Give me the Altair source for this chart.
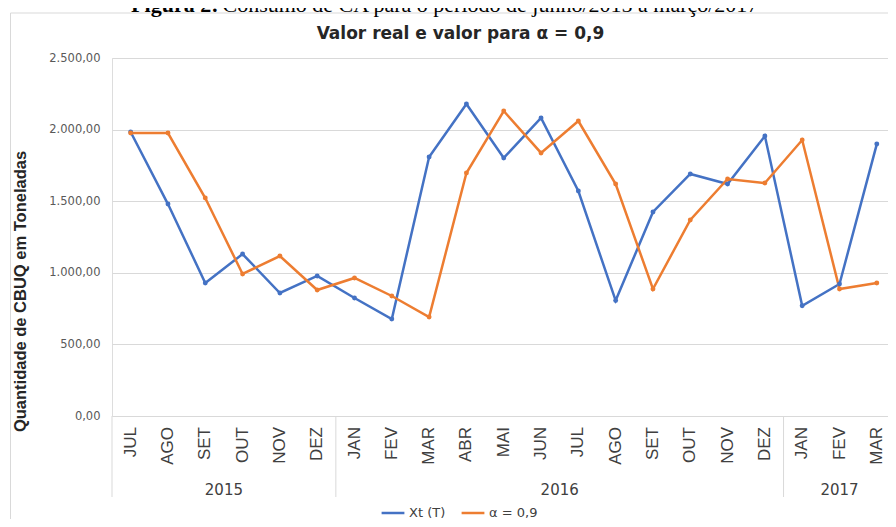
import altair as alt
import pandas as pd

# ---- data ----
months = ["JUL", "AGO", "SET", "OUT", "NOV", "DEZ",
          "JAN", "FEV", "MAR", "ABR", "MAI", "JUN", "JUL", "AGO", "SET", "OUT", "NOV", "DEZ",
          "JAN", "FEV", "MAR"]
years = ["2015", "2016", "2017"]
year_first = [0, 6, 18]
year_last = [5, 17, 20]
xt_values = [1983, 1480, 929, 1131, 859, 978, 824, 677, 1809, 2179, 1802, 2081,
             1571, 806, 1425, 1690, 1620, 1955, 770, 922, 1899]
alpha_values = [1976, 1976, 1522, 992, 1117, 880, 964, 838, 691, 1697, 2130, 1837,
                2060, 1620, 887, 1369, 1655, 1627, 1927, 887, 929]
series_names = ["Xt (T)", "α = 0,9"]
series_colors = ["#4472C4", "#ED7D31"]
y_ticks = [0, 500, 1000, 1500, 2000, 2500]

# ---- tables ----
rows = []
for i, m in enumerate(months):
    rows.append({"idx": i, "month": m, "series": series_names[0], "value": xt_values[i]})
    rows.append({"idx": i, "month": m, "series": series_names[1], "value": alpha_values[i]})
df = pd.DataFrame(rows)
mdf = pd.DataFrame({"idx": list(range(len(months))), "month": months})
ydf = pd.DataFrame({"year": years,
                    "center": [(a + b) / 2 for a, b in zip(year_first, year_last)]})
sep = pd.DataFrame({"pos": [year_first[0] - 0.5, year_first[1] - 0.5, year_first[2] - 0.5]})
one = pd.DataFrame({"a": [0]})

W, H = 776, 358
SANS = "Liberation Sans"
WIDE = "DejaVu Sans"

xscale = alt.Scale(domain=[-0.5, 20.3], nice=False, zero=False)
yscale = alt.Scale(domain=[0, 2500], nice=False)
color = alt.Color(
    "series:N",
    scale=alt.Scale(domain=series_names, range=series_colors),
    legend=alt.Legend(
        title=None, orient="none", legendX=268, legendY=442, direction="horizontal",
        symbolType="stroke", symbolStrokeWidth=2.5, symbolSize=520,
        labelFont=WIDE, labelFontSize=13, labelColor="#404040",
        columnPadding=10, labelOffset=3,
    ),
)

yaxis = alt.Axis(
    values=y_ticks,
    labelExpr="replace(replace(replace(format(datum.value, ',.2f'), ',', '_'), '.', ','), '_', '.')",
    domain=False, ticks=False, grid=True, gridColor="#d9d9d9", gridWidth=1,
    labelFont=WIDE, labelFontSize=11.5, labelColor="#595959", labelPadding=12,
    title="Quantidade de CBUQ em Toneladas",
    titleFont=SANS, titleFontSize=16.5, titleFontWeight="bold", titleColor="#262626",
    titleAngle=270, titleX=-92, titleY=233, titleAlign="center", titleBaseline="middle",
)

border = alt.Chart(one).mark_rect(fillOpacity=0, stroke="#d9d9d9", strokeWidth=1).encode(
    x=alt.value(-101.5), x2=alt.value(W + 30), y=alt.value(-45), y2=alt.value(H + 130)
)

lines = alt.Chart(df).mark_line(strokeWidth=2.5).encode(
    x=alt.X("idx:Q", scale=xscale, axis=None),
    y=alt.Y("value:Q", scale=yscale, axis=yaxis),
    color=color,
)
points = alt.Chart(df).mark_circle(size=24, opacity=1).encode(
    x=alt.X("idx:Q", scale=xscale, axis=None),
    y=alt.Y("value:Q", scale=yscale, axis=yaxis),
    color=color,
)

month_text = alt.Chart(mdf).mark_text(
    angle=270, align="right", baseline="middle", font=SANS, fontSize=17, color="#404040"
).encode(x=alt.X("idx:Q", scale=xscale, axis=None), y=alt.value(H + 11), text="month:N")

year_text = alt.Chart(ydf).mark_text(
    align="center", baseline="middle", font=WIDE, fontSize=15, color="#404040"
).encode(x=alt.X("center:Q", scale=xscale, axis=None), y=alt.value(H + 74), text="year:N")

sep_rules = alt.Chart(sep).mark_rule(color="#d9d9d9", strokeWidth=1).encode(
    x=alt.X("pos:Q", scale=xscale, axis=None), y=alt.value(H), y2=alt.value(H + 81)
)

title_text = alt.Chart(one).mark_text(
    text="Valor real e valor para α = 0,9", align="center", baseline="middle",
    font=WIDE, fontSize=17, fontWeight="bold", color="#262626"
).encode(x=alt.value(348.5), y=alt.value(-24))

cap_bold = alt.Chart(one).mark_text(
    text="Figura 2:", align="right", baseline="alphabetic",
    font="Liberation Serif", fontSize=22, fontWeight="bold", color="#000000"
).encode(x=alt.value(106.5), y=alt.value(-46))
cap_rest = alt.Chart(one).mark_text(
    text="Consumo de CA para o período de junho/2015 a março/2017", align="left",
    baseline="alphabetic", font="Liberation Serif", fontSize=22, color="#000000"
).encode(x=alt.value(110.5), y=alt.value(-46))

chart = alt.layer(
    border, sep_rules, lines, points, month_text, year_text, title_text, cap_bold, cap_rest
).properties(
    width=W, height=H,
    autosize=alt.AutoSizeParams(type="none"),
    padding={"left": 104, "top": 50, "right": 0, "bottom": 103},
).configure_view(stroke=None).configure(background="white")

chart.save("out.html", embed_options={"renderer": "svg", "actions": False})
